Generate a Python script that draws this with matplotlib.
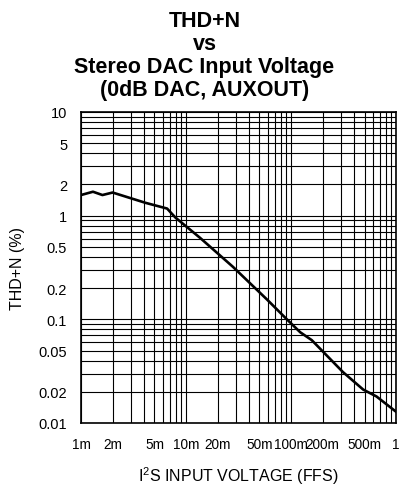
import matplotlib
matplotlib.use("Agg")
import matplotlib.pyplot as plt
from matplotlib.ticker import FixedLocator, NullFormatter, LogLocator

plt.rcParams["font.family"] = ["Liberation Sans", "DejaVu Sans"]
plt.rcParams["mathtext.fontset"] = "custom"
plt.rcParams["mathtext.rm"] = "Liberation Sans"

# curve (input level in FFS, THD+N in %)
level = [1e-3, 1.3e-3, 1.6e-3, 2e-3, 4.1e-3, 6.6e-3, 7.9e-3, 13.6e-3, 28e-3,
         59e-3, 91e-3, 122e-3, 157e-3, 311e-3, 485e-3, 650e-3, 1.0]
thdn = [1.58, 1.70, 1.58, 1.67, 1.33, 1.17, 0.96, 0.61, 0.32,
        0.155, 0.10, 0.075, 0.063, 0.031, 0.021, 0.018, 0.0128]

x_ticks = [1e-3, 2e-3, 5e-3, 1e-2, 2e-2, 5e-2, 0.1, 0.2, 0.5, 1.0]
x_labels = ["1m", "2m", "5m", "10m", "20m", "50m", "100m", "200m", "500m", "1"]
y_ticks = [0.01, 0.02, 0.05, 0.1, 0.2, 0.5, 1, 2, 5, 10]
y_labels = ["0.01", "0.02", "0.05", "0.1", "0.2", "0.5", "1", "2", "5", "10"]

fig = plt.figure(figsize=(4.01, 4.89), dpi=100)
ax = fig.add_axes([0.202, 0.133, 0.786, 0.636])

ax.plot(level, thdn, color="black", linewidth=1.9, zorder=3)

ax.set_xscale("log")
ax.set_yscale("log")
ax.set_xlim(1e-3, 1.0)
ax.set_ylim(0.01, 10)

ax.xaxis.set_major_locator(FixedLocator(x_ticks))
ax.set_xticklabels(x_labels)
ax.xaxis.set_minor_locator(LogLocator(base=10, subs=range(1, 10)))
ax.xaxis.set_minor_formatter(NullFormatter())
ax.yaxis.set_major_locator(FixedLocator(y_ticks))
ax.set_yticklabels(y_labels)
ax.yaxis.set_minor_locator(LogLocator(base=10, subs=range(1, 10)))
ax.yaxis.set_minor_formatter(NullFormatter())

ax.grid(True, which="both", color="black", linewidth=0.8)
ax.tick_params(which="both", length=0)
ax.tick_params(axis="x", pad=10, labelsize=9.8)
ax.tick_params(axis="y", pad=10, labelsize=10.5)
for s in ax.spines.values():
    s.set_linewidth(1.2)

ax.set_ylabel("THD+N (%)", fontsize=11.5, labelpad=10)
ax.set_xlabel(r"I$^2$S INPUT VOLTAGE (FFS)", fontsize=11.5, labelpad=10)

fig.text(0.51, 0.978, "THD+N\nvs\nStereo DAC Input Voltage\n(0dB DAC, AUXOUT)",
         ha="center", va="top", fontsize=15.5, fontweight="bold", linespacing=1.12)

fig.savefig("out.png", dpi=100)
